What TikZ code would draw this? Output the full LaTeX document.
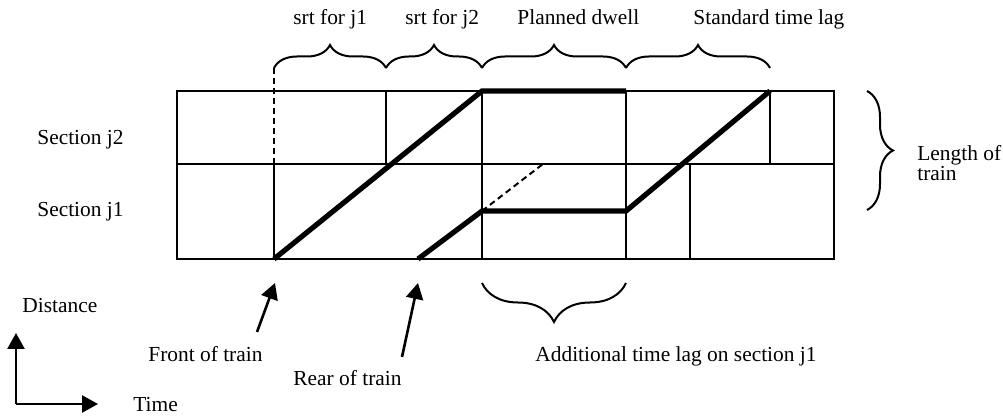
\documentclass[tikz,border=0pt]{standalone}
\usepackage{fontspec}
\setmainfont{Liberation Serif}
\usepackage{tikz}
\usetikzlibrary{arrows.meta}
\usetikzlibrary{decorations.pathreplacing}

\begin{document}
\begin{tikzpicture}[>={Triangle[length=8pt,width=8.5pt]},x=0.5pt,y=-0.5pt,
	txt/.style={anchor=base west,inner sep=0pt,font=\fontsize{10.7}{13}\selectfont},
	gridline/.style={line width=1pt},
	train/.style={line width=2.6pt},
	brc/.style={decorate,decoration={brace,amplitude=#1},line width=1pt}] % 时距图
	\useasboundingbox (0,0) rectangle (1003,417);
	
	\coordinate (nw) at (177,91);
	\coordinate (se) at (834,259);
	\coordinate (w) at (177,164);
	\coordinate (e) at (834,164);
	\draw[gridline] (nw) rectangle (se);
	\draw[gridline] (w) -- (e);
	
	\foreach \i/\x in {1/386,2/482,3/626,4/770}{
		\coordinate (a\i) at (\x,91);
		\coordinate (b\i) at (\x,164);
		\draw[gridline] (a\i) -- (b\i);
	}
	\foreach \i/\x in {1/274,2/482,3/626,4/690}{
		\coordinate (c\i) at (\x,164);
		\coordinate (d\i) at (\x,259);
		\draw[gridline] (c\i) -- (d\i);
	}
	
	% 列车头部与尾部
	\coordinate (h0) at (274,259);
	\coordinate (r0) at (418,259);
	\coordinate (r1) at (482,211);
	\coordinate (r2) at (626,211);
	\coordinate (rd) at (543,164);
	\draw[train] (h0) -- (a2) -- (a3);
	\draw[train] (r0) -- (r1) -- (r2) -- (a4);
	\draw[gridline,dash pattern=on 3pt off 2pt] (r1) -- (rd);
	
	% 大括号
	\coordinate (k0) at (274,68);
	\foreach \i/\x in {1/386,2/482,3/626,4/770}{
		\coordinate (k\i) at (\x,68);
	}
	\draw[gridline,dash pattern=on 3pt off 2pt] (k0) -- (c1);
	\draw[brc=11.5pt] (k0) -- (k1);
	\draw[brc=11.5pt] (k1) -- (k2);
	\draw[brc=11.5pt] (k2) -- (k3);
	\draw[brc=11.5pt] (k3) -- (k4);
	
	\coordinate (g1) at (867,91);
	\coordinate (g2) at (867,210);
	\draw[brc=13pt] (g1) -- (g2);
	
	\coordinate (l1) at (626,283);
	\coordinate (l2) at (482,283);
	\draw[brc=19.5pt] (l1) -- (l2);
	
	\foreach \name/\x/\y/\txt in {srt1/293/25/srt for j1, srt2/405/25/srt for j2,
		dwell/517/25/Planned dwell, lag/693/25/Standard time lag,
		sec2/37/145/Section j2, sec1/37/217/Section j1,
		len/917/161/Length of, len2/917/181/train,
		dist/22/313/Distance, front/148/362/Front of train,
		rear/293/386/Rear of train, time/133/411/Time,
		add/535/362/Additional time lag on section j1}{
		\node[txt] (\name) at (\x,\y) {\txt};
	}
	
	% 箭头
	\coordinate (fa) at (257,332);
	\coordinate (fb) at (275,283);
	\coordinate (ra) at (402,357);
	\coordinate (rb) at (418,283);
	\draw[->,line width=1.3pt] (fa) -- (fb);
	\draw[->,line width=1.3pt] (ra) -- (rb);
	
	\coordinate (o) at (16,404);
	\coordinate (oy) at (16,333);
	\coordinate (ox) at (98,404);
	\draw[->,line width=1.3pt] (o) -- (oy);
	\draw[->,line width=1.3pt] (o) -- (ox);
\end{tikzpicture}
\end{document}
